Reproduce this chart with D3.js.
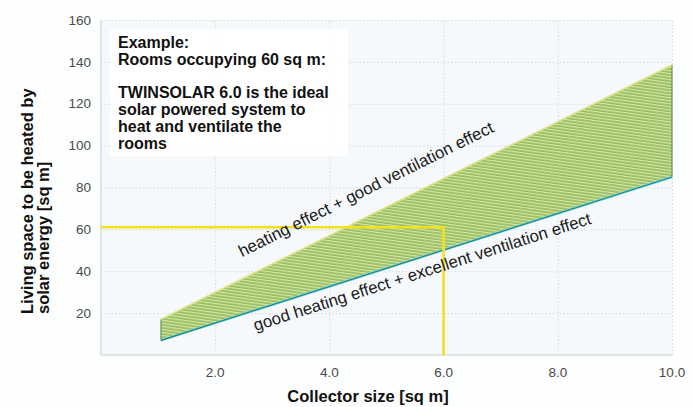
<!DOCTYPE html>
<html><head><meta charset="utf-8">
<script src="https://cdn.jsdelivr.net/npm/d3@7"></script>
<style>
html,body{margin:0;padding:0;background:#fdfefe;}
svg{display:block;font-family:"Liberation Sans",Arial,sans-serif;}
</style></head>
<body>
<script>
// ---- data ----
const collectorSize = [1.05, 10];          // x values of band ends [sq m]
const upperLimit = [17, 138.5];            // heating effect + good ventilation effect
const lowerLimit = [7, 85];                // good heating effect + excellent ventilation effect
const exampleSize = 6;                     // TWINSOLAR 6.0
const exampleArea = 61;                    // rooms ~60 sq m
const xTicks = [2, 4, 6, 8, 10];
const yTicks = [20, 40, 60, 80, 100, 120, 140, 160];
const upperLabel = "heating effect + good ventilation effect";
const lowerLabel = "good heating effect + excellent ventilation effect";
const noteLines = ["Example:", "Rooms occupying 60 sq m:", "", "TWINSOLAR 6.0 is the ideal", "solar powered system to", "heat and ventilate the", "rooms"];
const yTitle = ["Living space to be heated by", "solar energy [sq m]"];
const xTitle = "Collector size [sq m]";

const W = 693, H = 407;
const m = {l: 101, r: 21, t: 20, b: 52};
const svg = d3.select("body").append("svg").attr("width", W).attr("height", H);
const x = d3.scaleLinear().domain([0, 10]).range([m.l, W - m.r]);
const y = d3.scaleLinear().domain([0, 160]).range([H - m.b, m.t]);

// plot background
svg.append("rect").attr("x", x(0)).attr("y", y(160)).attr("width", x(10) - x(0)).attr("height", y(0) - y(160)).attr("fill", "#f6f9fc");

// hatch pattern
const defs = svg.append("defs");
const pat = defs.append("pattern").attr("id", "hatch").attr("patternUnits", "userSpaceOnUse")
  .attr("width", 12).attr("height", 3).attr("patternTransform", "rotate(8)");
pat.append("rect").attr("width", 12).attr("height", 3).attr("fill", "#8fbd66");
pat.append("rect").attr("y", 0).attr("width", 12).attr("height", 1.3).attr("fill", "#dde49c");

// grid
const grid = svg.append("g").attr("stroke", "#d6d9dc").attr("stroke-width", 1).attr("stroke-dasharray", "1.5,2");
grid.selectAll(".gy").data(yTicks).join("line")
  .attr("x1", x(0)).attr("x2", x(10)).attr("y1", d => y(d) + 0.5).attr("y2", d => y(d) + 0.5);
grid.selectAll(".gx").data(xTicks).join("line")
  .attr("y1", y(0)).attr("y2", y(160)).attr("x1", d => x(d) + 0.5).attr("x2", d => x(d) + 0.5);

// text box backdrop
svg.append("rect").attr("x", 110).attr("y", 29).attr("width", 238).attr("height", 127).attr("fill", "#ffffff").attr("opacity", 0.92);

// axes lines
svg.append("line").attr("x1", x(0)).attr("x2", x(10)).attr("y1", y(0)).attr("y2", y(0)).attr("stroke", "#d8dadc").attr("stroke-width", 1.5);
svg.append("line").attr("x1", x(0)).attr("x2", x(0)).attr("y1", y(0)).attr("y2", y(160)).attr("stroke", "#d8dadc").attr("stroke-width", 1.5);

// band
const band = collectorSize.map((c, i) => ({c, u: upperLimit[i], l: lowerLimit[i]}));
const area = d3.area().x(d => x(d.c)).y0(d => y(d.l)).y1(d => y(d.u));
svg.append("path").datum(band).attr("d", area).attr("fill", "url(#hatch)").attr("stroke", "#4d8a45").attr("stroke-width", 1);
const lineU = d3.line().x(d => x(d.c)).y(d => y(d.u));
const lineL = d3.line().x(d => x(d.c)).y(d => y(d.l));
svg.append("path").datum(band).attr("d", lineU).attr("fill", "none").attr("stroke", "#e4e68a").attr("stroke-width", 1.6);
svg.append("path").datum(band).attr("d", lineL).attr("fill", "none").attr("stroke", "#7fdcea").attr("stroke-width", 2.5);
svg.append("path").datum(band).attr("d", lineL).attr("fill", "none").attr("stroke", "#21807f").attr("stroke-width", 1.2);

// example yellow lines
svg.append("path").datum([[0, exampleArea], [exampleSize, exampleArea], [exampleSize, 0]])
  .attr("d", d3.line().x(d => x(d[0])).y(d => y(d[1])))
  .attr("fill", "none").attr("stroke", "#f2e11c").attr("stroke-width", 2.6);

// tick labels
svg.append("g").selectAll("text").data(yTicks).join("text")
  .attr("x", x(0) - 10).attr("y", d => y(d)).attr("dy", "0.35em").attr("text-anchor", "end")
  .attr("font-size", 13.5).attr("fill", "#4a4a4a").text(d => d);
svg.append("g").selectAll("text").data(xTicks).join("text")
  .attr("x", d => x(d)).attr("y", y(0) + 22).attr("text-anchor", "middle")
  .attr("font-size", 13.5).attr("fill", "#4a4a4a").text(d => d3.format(".1f")(d));

// titles
svg.append("text").attr("x", 368).attr("y", 402).attr("text-anchor", "middle")
  .attr("font-size", 16.5).attr("font-weight", "bold").attr("fill", "#111").text(xTitle);
const yt = svg.append("text").attr("transform", "translate(0,314) rotate(-90)")
  .attr("font-size", 16.5).attr("font-weight", "bold").attr("fill", "#111");
yTitle.forEach((t, i) => yt.append("tspan").attr("x", 0).attr("y", 33 + i * 15.5).text(t));

// note
const note = svg.append("text").attr("font-size", 16).attr("font-weight", "bold").attr("fill", "#111");
noteLines.forEach((t, i) => note.append("tspan").attr("x", 118).attr("y", 48 + i * 16.8).text(t));

// band labels along edges
function edgeLabel(vals, xStart, offset, text) {
  const p0 = [x(collectorSize[0]), y(vals[0])], p1 = [x(collectorSize[1]), y(vals[1])];
  const ang = Math.atan2(p1[1] - p0[1], p1[0] - p0[0]) * 180 / Math.PI;
  const t = (x(xStart) - p0[0]) / (p1[0] - p0[0]);
  const px = x(xStart), py = p0[1] + t * (p1[1] - p0[1]);
  svg.append("text").attr("transform", `translate(${px},${py}) rotate(${ang})`)
    .attr("y", offset).attr("font-size", 16.8).attr("fill", "#1a1a1a").text(text);
}
edgeLabel(upperLimit, 2.62, -19.5, upperLabel);
edgeLabel(lowerLimit, 2.6, 20, lowerLabel);
</script>
</body></html>
